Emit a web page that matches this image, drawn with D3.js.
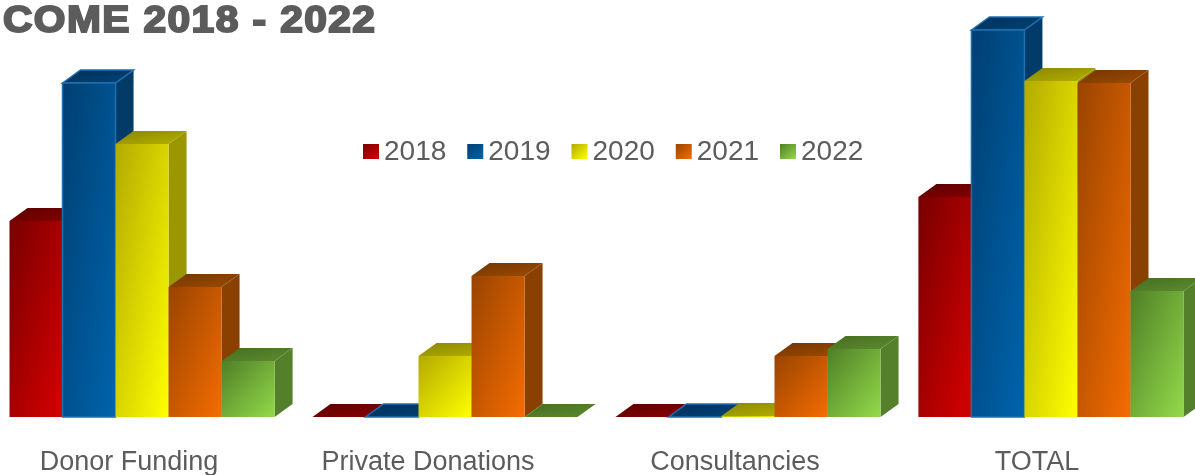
<!DOCTYPE html>
<html>
<head>
<meta charset="utf-8">
<script src="https://cdn.jsdelivr.net/npm/d3@7"></script>
<style>
	html, body { margin: 0; padding: 0; background: #fff; }
	svg { display: block; filter: blur(0.4px); }
	text { font-family: "Liberation Sans", Arial, sans-serif; fill: #5c5c5c; }
</style>
</head>
<body>
<script>
'use strict';

const categories = ["Donor Funding", "Private Donations", "Consultancies", "TOTAL"];
const years = ["2018", "2019", "2020", "2021", "2022"];

// no axis in the picture, so values are read off in bar heights
const values2018 = [196, 0, 0, 220];
const values2019 = [334, 0, 0, 387];
const values2020 = [273, 61, 1, 336];
const values2021 = [130, 141, 61, 334];
const values2022 = [56, 0, 68, 126];
const seriesValues = [values2018, values2019, values2020, values2021, values2022];

// front dark, front bright, side, top dark, top bright
const colors2018 = ["#780000", "#d60000", "#650000", "#5a0000", "#8a0000"];
const colors2019 = ["#003f72", "#0064ac", "#023a68", "#002f58", "#004478"];
const colors2020 = ["#b3aa00", "#ffff00", "#9a9700", "#8a8600", "#b5b000"];
const colors2021 = ["#994400", "#f56c00", "#8a4000", "#743500", "#9c4c00"];
const colors2022 = ["#4f7f26", "#93da4a", "#55802b", "#466d20", "#5c8c30"];
const seriesColors = [colors2018, colors2019, colors2020, colors2021, colors2022];

const width = 1195;
const height = 475;
const baseY = 417;
const depthX = 18;
const depthY = 13;

const svg = d3.select("body").append("svg")
	.attr("width", width)
	.attr("height", height);

const defs = svg.append("defs");

function addGradient(id, c0, c1) {
	let g = defs.append("linearGradient")
		.attr("id", id)
		.attr("x1", 0).attr("y1", 0)
		.attr("x2", 1).attr("y2", 1);
	g.append("stop").attr("offset", "0%").attr("stop-color", c0);
	g.append("stop").attr("offset", "100%").attr("stop-color", c1);
}

years.forEach(function(y, i) {
	let c = seriesColors[i];
	addGradient("front-" + y, c[0], c[1]);
	addGradient("top-" + y, c[3], c[4]);
});

const x0 = d3.scaleBand()
	.domain(categories)
	.range([9.5, 1183.5])
	.paddingInner(0.125)
	.paddingOuter(0);

const x1 = d3.scaleBand()
	.domain(years)
	.range([0, x0.bandwidth()]);

const y = d3.scaleLinear()
	.domain([0, 400])
	.range([baseY, baseY - 400]);

function poly(pts) {
	return "M" + pts.map(function(p) { return p.join(","); }).join("L") + "Z";
}

const bars = [];
categories.forEach(function(cat, c) {
	years.forEach(function(yr, s) {
		bars.push({ cat: cat, year: yr, s: s, value: seriesValues[s][c] });
	});
});

// left to right so the next bar hides the side of the one before it
const bar = svg.append("g").selectAll("g")
	.data(bars)
	.enter()
	.append("g")
	.each(function(d) {
		let g = d3.select(this);
		let l = x0(d.cat) + x1(d.year);
		let r = l + x1.bandwidth();
		let t = y(d.value);
		let isBlue = d.year == "2019";
		let edge = isBlue ? "#1f70b0" : "none";

		g.append("path")
			.attr("d", poly([[r, t], [r + depthX, t - depthY], [r + depthX, baseY - depthY], [r, baseY]]))
			.attr("fill", seriesColors[d.s][2]);
		g.append("path")
			.attr("d", poly([[l, t], [l + depthX, t - depthY], [r + depthX, t - depthY], [r, t]]))
			.attr("fill", "url(#top-" + d.year + ")")
			.attr("stroke", edge)
			.attr("stroke-width", 1.5);
		if (d.value > 0) {
			g.append("rect")
				.attr("x", l)
				.attr("y", t)
				.attr("width", r - l)
				.attr("height", baseY - t)
				.attr("fill", "url(#front-" + d.year + ")")
				.attr("stroke", edge)
				.attr("stroke-width", 1.5);
		}
	});

// category labels
const labelShift = d3.scaleOrdinal().domain(categories).range([-13, -17, -13, -14]);

svg.append("g").selectAll("text")
	.data(categories)
	.enter()
	.append("text")
	.attr("x", function(d) { return x0(d) + x0.bandwidth() / 2 + labelShift(d); })
	.attr("y", 470)
	.attr("text-anchor", "middle")
	.attr("font-size", 27)
	.text(function(d) { return d; });

// legend
const legendX = d3.scalePoint()
	.domain(years)
	.range([363, 780]);

const legend = svg.append("g").selectAll("g")
	.data(years)
	.enter()
	.append("g")
	.attr("transform", function(d) { return "translate(" + legendX(d) + ",0)"; });

legend.append("rect")
	.attr("y", 144)
	.attr("width", 16)
	.attr("height", 15)
	.attr("fill", function(d) { return "url(#front-" + d + ")"; });

legend.append("text")
	.attr("x", 21)
	.attr("y", 160)
	.attr("font-size", 28)
	.text(function(d) { return d; });

// title, cut off on the left like the source
svg.append("text")
	.attr("transform", "translate(3,32) scale(1.1,1)")
	.attr("font-size", 37)
	.attr("font-weight", "bold")
	.attr("letter-spacing", 1.3)
	.style("stroke", "#5c5c5c")
	.style("stroke-width", 2)
	.text("COME 2018 - 2022");
</script>
</body>
</html>
